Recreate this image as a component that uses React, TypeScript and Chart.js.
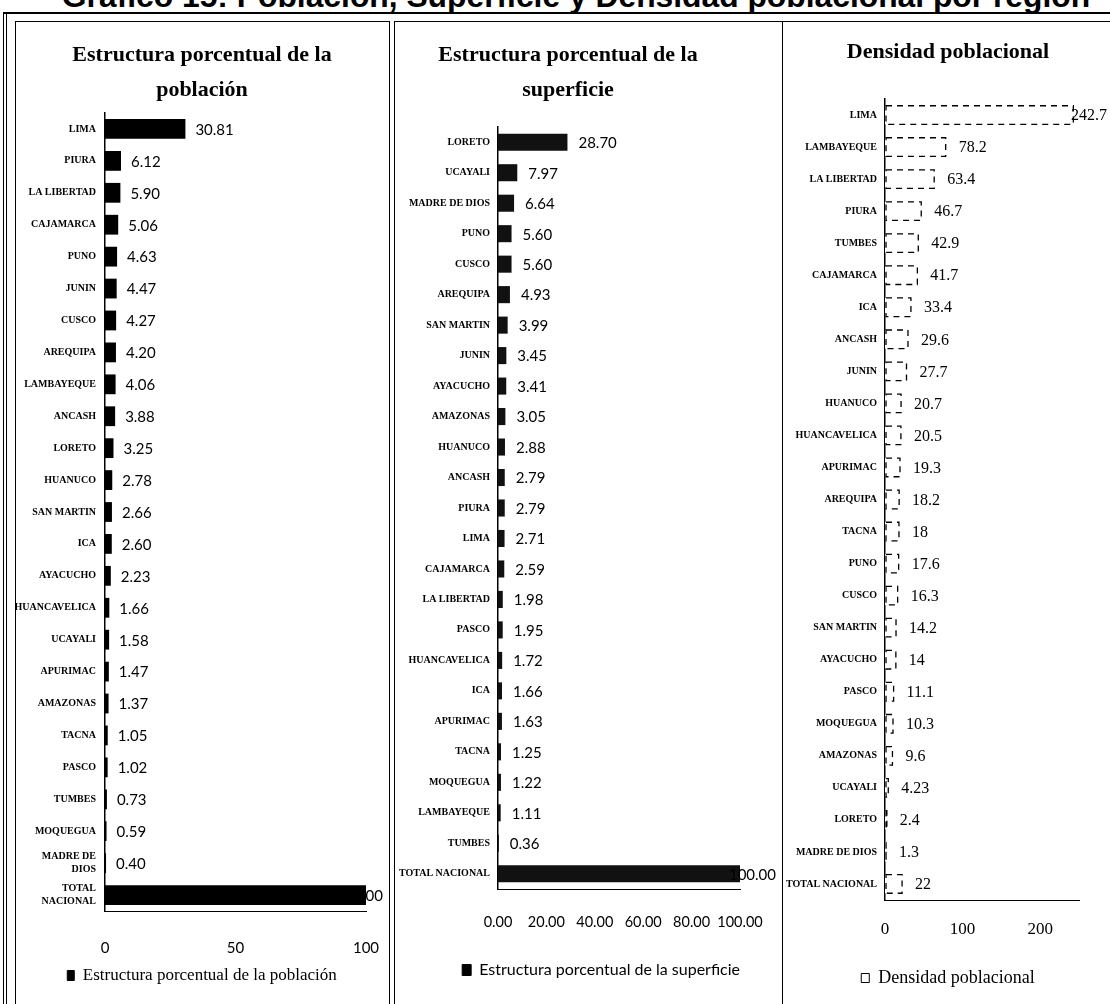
import React, { useEffect, useRef } from 'react';
import { Chart, registerables } from 'chart.js';

Chart.register(...registerables);

// ---------- Data ----------
const pageTitle = 'Gráfico 15: Población, Superficie y Densidad poblacional por región';

const popTitle = ['Estructura porcentual de la', 'población'];
const popLegend = 'Estructura porcentual de la población';
const popCategories: (string | string[])[] = [
  'LIMA', 'PIURA', 'LA LIBERTAD', 'CAJAMARCA', 'PUNO', 'JUNIN', 'CUSCO', 'AREQUIPA',
  'LAMBAYEQUE', 'ANCASH', 'LORETO', 'HUANUCO', 'SAN MARTIN', 'ICA', 'AYACUCHO',
  'HUANCAVELICA', 'UCAYALI', 'APURIMAC', 'AMAZONAS', 'TACNA', 'PASCO', 'TUMBES',
  'MOQUEGUA', ['MADRE DE', 'DIOS'], ['TOTAL', 'NACIONAL'],
];
const popValues = [
  30.81, 6.12, 5.9, 5.06, 4.63, 4.47, 4.27, 4.2, 4.06, 3.88, 3.25, 2.78, 2.66, 2.6,
  2.23, 1.66, 1.58, 1.47, 1.37, 1.05, 1.02, 0.73, 0.59, 0.4, 100,
];
const popAxisMax = 100;
const popAxisStep = 50;

const areaTitle = ['Estructura porcentual de la', 'superficie'];
const areaLegend = 'Estructura porcentual de la superficie';
const areaCategories: string[] = [
  'LORETO', 'UCAYALI', 'MADRE DE DIOS', 'PUNO', 'CUSCO', 'AREQUIPA', 'SAN MARTIN',
  'JUNIN', 'AYACUCHO', 'AMAZONAS', 'HUANUCO', 'ANCASH', 'PIURA', 'LIMA', 'CAJAMARCA',
  'LA LIBERTAD', 'PASCO', 'HUANCAVELICA', 'ICA', 'APURIMAC', 'TACNA', 'MOQUEGUA',
  'LAMBAYEQUE', 'TUMBES', 'TOTAL NACIONAL',
];
const areaValues = [
  28.7, 7.97, 6.64, 5.6, 5.6, 4.93, 3.99, 3.45, 3.41, 3.05, 2.88, 2.79, 2.79, 2.71,
  2.59, 1.98, 1.95, 1.72, 1.66, 1.63, 1.25, 1.22, 1.11, 0.36, 100,
];
const areaAxisMax = 100;
const areaAxisStep = 20;

const densTitle = 'Densidad poblacional';
const densLegend = 'Densidad poblacional';
const densCategories: string[] = [
  'LIMA', 'LAMBAYEQUE', 'LA LIBERTAD', 'PIURA', 'TUMBES', 'CAJAMARCA', 'ICA', 'ANCASH',
  'JUNIN', 'HUANUCO', 'HUANCAVELICA', 'APURIMAC', 'AREQUIPA', 'TACNA', 'PUNO', 'CUSCO',
  'SAN MARTIN', 'AYACUCHO', 'PASCO', 'MOQUEGUA', 'AMAZONAS', 'UCAYALI', 'LORETO',
  'MADRE DE DIOS', 'TOTAL NACIONAL',
];
const densValues = [
  242.7, 78.2, 63.4, 46.7, 42.9, 41.7, 33.4, 29.6, 27.7, 20.7, 20.5, 19.3, 18.2, 18,
  17.6, 16.3, 14.2, 14, 11.1, 10.3, 9.6, 4.23, 2.4, 1.3, 22,
];
const densAxisMax = 250;
const densAxisStep = 100;

// ---------- Helpers ----------
const SERIF = "'Liberation Serif', 'Times New Roman', serif";
const SANS = "Lato, 'Liberation Sans', sans-serif";

function valuePlugin(font: string, offset: number, edge: number, fmt: (v: number) => string) {
  return {
    id: 'valueLabels',
    afterDatasetsDraw(chart: any) {
      const ctx = chart.ctx;
      const meta = chart.getDatasetMeta(0);
      const data = chart.data.datasets[0].data as number[];
      ctx.save();
      ctx.font = font;
      ctx.fillStyle = '#000';
      ctx.textBaseline = 'middle';
      ctx.textAlign = 'left';
      meta.data.forEach((el: any, i: number) => {
        const txt = fmt(data[i]);
        const w = ctx.measureText(txt).width;
        let x = el.x + offset;
        if (x + w > chart.width - edge) x = chart.width - edge - w;
        ctx.fillText(txt, x, el.y + 1);
      });
      ctx.restore();
    },
  };
}

const dashedBarsPlugin = {
  id: 'dashedBars',
  afterDatasetsDraw(chart: any) {
    const ctx = chart.ctx;
    const meta = chart.getDatasetMeta(0);
    ctx.save();
    ctx.strokeStyle = '#000';
    ctx.lineWidth = 1.3;
    ctx.setLineDash([6, 5]);
    meta.data.forEach((el: any) => {
      const { x, y, base, height } = el.getProps(['x', 'y', 'base', 'height'], true);
      ctx.strokeRect(base + 1, y - height / 2, x - base - 1, height);
    });
    ctx.restore();
  },
};

interface PanelOpts {
  categories: (string | string[])[];
  values: number[];
  barColor: string;
  barPct: number;
  title: string | string[];
  titleLineHeight: number;
  titlePadTop: number;
  titlePadBottom: number;
  xMax: number;
  xStep: number;
  xFont: any;
  xPad: number;
  xHeight: number;
  xFormat: (v: number) => string;
  axisRightGap: number;
  yWidth: number;
  yPad: number;
  padRight: number;
  padBottom: number;
  legendText: string;
  legendFont: any;
  legendBoxW: number;
  legendBoxH: number;
  legendFill: string;
  legendAlign: string;
  legendPad: number;
  plugins: any[];
}

function makeConfig(o: PanelOpts): any {
  return {
    type: 'bar',
    data: {
      labels: o.categories,
      datasets: [
        {
          label: o.legendText,
          data: o.values,
          backgroundColor: o.barColor,
          borderWidth: 0,
          barPercentage: o.barPct,
          categoryPercentage: 1,
        },
      ],
    },
    plugins: o.plugins,
    options: {
      indexAxis: 'y',
      responsive: false,
      animation: false,
      devicePixelRatio: 1,
      layout: { padding: { left: 0, right: o.padRight, top: 0, bottom: o.padBottom } },
      scales: {
        x: {
          min: 0,
          max: o.xMax,
          ticks: {
            stepSize: o.xStep,
            includeBounds: false,
            autoSkip: false,
            color: '#000',
            font: o.xFont,
            padding: o.xPad,
            maxRotation: 0,
            callback: (v: any) => o.xFormat(Number(v)),
          },
          grid: { display: false, drawTicks: false },
          border: { display: true, color: '#000', width: 1 },
          afterFit: (s: any) => {
            s.height = o.xHeight;
            s.paddingLeft = 0;
            s.paddingRight = o.axisRightGap;
          },
        },
        y: {
          ticks: {
            color: '#000',
            autoSkip: false,
            padding: o.yPad,
            font: { family: SERIF, size: 10, weight: 'bold', lineHeight: 1.35 },
          },
          grid: { display: false, drawTicks: false },
          border: { display: true, color: '#000', width: 1.5 },
          afterFit: (s: any) => {
            s.width = o.yWidth;
            s.paddingTop = 0;
            s.paddingBottom = 0;
          },
        },
      },
      plugins: {
        tooltip: { enabled: false },
        title: {
          display: true,
          text: o.title,
          color: '#000',
          font: { family: SERIF, size: 22, weight: 'bold', lineHeight: o.titleLineHeight },
          padding: { top: o.titlePadTop, bottom: o.titlePadBottom },
        },
        legend: {
          display: true,
          position: 'bottom',
          align: o.legendAlign,
          labels: {
            color: '#000',
            font: o.legendFont,
            boxWidth: o.legendBoxW,
            boxHeight: o.legendBoxH,
            padding: o.legendPad,
            generateLabels: () => [
              {
                text: o.legendText,
                fillStyle: o.legendFill,
                strokeStyle: '#000',
                lineWidth: 1,
                hidden: false,
                datasetIndex: 0,
                fontColor: '#000',
              },
            ],
          },
        },
      },
    },
  };
}

function ChartCanvas(props: { left: number; top: number; width: number; height: number; make: () => any }) {
  const ref = useRef<HTMLCanvasElement>(null);
  useEffect(() => {
    const chart = new Chart(ref.current as HTMLCanvasElement, props.make());
    return () => chart.destroy();
  }, []);
  return (
    <canvas
      ref={ref}
      width={props.width}
      height={props.height}
      style={{ position: 'absolute', left: props.left, top: props.top, width: props.width, height: props.height }}
    />
  );
}

const popConfig = () =>
  makeConfig({
    categories: popCategories,
    values: popValues,
    barColor: '#000',
    barPct: 0.62,
    title: popTitle,
    titleLineHeight: 35 / 22,
    titlePadTop: 14.5,
    titlePadBottom: 5.5,
    xMax: popAxisMax,
    xStep: popAxisStep,
    xFont: { family: SANS, size: 15 },
    xPad: 28,
    xHeight: 46,
    xFormat: (v) => String(v),
    axisRightGap: 22,
    yWidth: 89,
    yPad: 9,
    padRight: 0,
    padBottom: 10,
    legendText: popLegend,
    legendFont: { family: SERIF, size: 17 },
    legendBoxW: 7,
    legendBoxH: 10,
    legendFill: '#000',
    legendAlign: 'center',
    legendPad: 10,
    plugins: [valuePlugin(`15px ${SANS}`, 10, 5, (v) => (v === 100 ? '100' : v.toFixed(2)))],
  });

const areaConfig = () =>
  makeConfig({
    categories: areaCategories,
    values: areaValues,
    barColor: '#111',
    barPct: 0.56,
    title: areaTitle,
    titleLineHeight: 35 / 22,
    titlePadTop: 14.5,
    titlePadBottom: 19.5,
    xMax: areaAxisMax,
    xStep: areaAxisStep,
    xFont: { family: SANS, size: 14.5 },
    xPad: 25,
    xHeight: 73,
    xFormat: (v) => v.toFixed(2),
    axisRightGap: 0,
    yWidth: 102,
    yPad: 8,
    padRight: 41,
    padBottom: 16,
    legendText: areaLegend,
    legendFont: { family: SANS, size: 16 },
    legendBoxW: 9,
    legendBoxH: 11,
    legendFill: '#000',
    legendAlign: 'end',
    legendPad: 0,
    plugins: [valuePlugin(`15px ${SANS}`, 11, 5, (v) => v.toFixed(2))],
  });

const densConfig = () =>
  makeConfig({
    categories: densCategories,
    values: densValues,
    barColor: '#fff',
    barPct: 0.58,
    title: densTitle,
    titleLineHeight: 1.2,
    titlePadTop: 15.8,
    titlePadBottom: 33.8,
    xMax: densAxisMax,
    xStep: densAxisStep,
    xFont: { family: SERIF, size: 17 },
    xPad: 19,
    xHeight: 59,
    xFormat: (v) => String(v),
    axisRightGap: 33,
    yWidth: 101,
    yPad: 8,
    padRight: 0,
    padBottom: 7,
    legendText: densLegend,
    legendFont: { family: SERIF, size: 18 },
    legendBoxW: 8,
    legendBoxH: 9,
    legendFill: '#fff',
    legendAlign: 'center',
    legendPad: 10,
    plugins: [dashedBarsPlugin, valuePlugin(`16px ${SERIF}`, 13, 5, (v) => String(v))],
  });

export default function App() {
  const line = (l: number, t: number, w: number, h: number) => (
    <div style={{ position: 'absolute', left: l, top: t, width: w, height: h, background: '#000' }} />
  );
  return (
    <div
      style={{
        position: 'absolute',
        left: 0,
        top: 0,
        width: 1110,
        height: 1004,
        overflow: 'hidden',
        background: '#fff',
      }}
    >
      <div
        style={{
          position: 'absolute',
          left: 0,
          top: -19,
          width: 1152,
          textAlign: 'center',
          font: "bold 31.8px 'Liberation Sans', Arial, sans-serif",
          lineHeight: '31px',
          whiteSpace: 'nowrap',
          color: '#000',
        }}
      >
        {pageTitle}
      </div>
      {line(3, 12, 1107, 2)}
      {line(3, 12, 1, 992)}
      {line(6, 12, 1, 992)}
      <div style={{ position: 'absolute', left: 15, top: 21, width: 373, height: 1000, border: '1px solid #000' }} />
      <div style={{ position: 'absolute', left: 394, top: 21, width: 387, height: 1000, border: '1px solid #000' }} />
      <div style={{ position: 'absolute', left: 782, top: 21, width: 340, height: 1000, border: '1px solid #000' }} />
      <ChartCanvas left={16} top={23} width={372} height={981} make={popConfig} />
      <ChartCanvas left={396} top={23} width={385} height={981} make={areaConfig} />
      <ChartCanvas left={784} top={23} width={328} height={981} make={densConfig} />
    </div>
  );
}
